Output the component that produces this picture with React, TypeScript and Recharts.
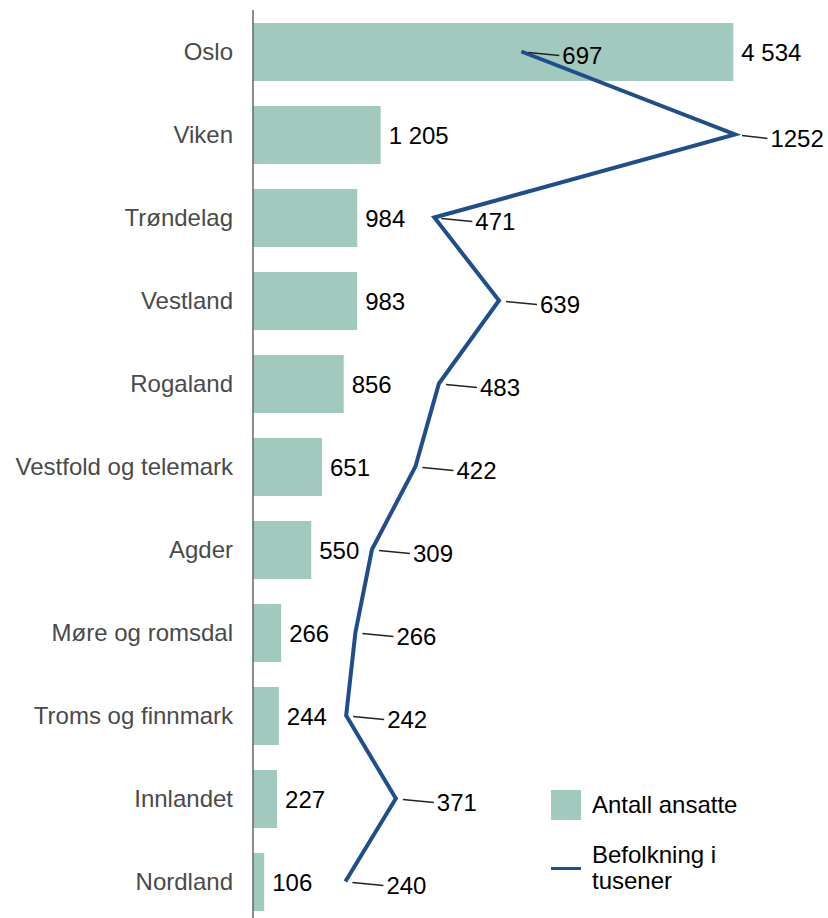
import React from "react";
import {
  ComposedChart,
  Bar,
  Line,
  XAxis,
  YAxis,
  LabelList,
} from "recharts";

const regions = [
  "Oslo",
  "Viken",
  "Trøndelag",
  "Vestland",
  "Rogaland",
  "Vestfold og telemark",
  "Agder",
  "Møre og romsdal",
  "Troms og finnmark",
  "Innlandet",
  "Nordland",
];
const employees = [4534, 1205, 984, 983, 856, 651, 550, 266, 244, 227, 106];
const population = [697, 1252, 471, 639, 483, 422, 309, 266, 242, 371, 240];

const BAR_COLOR = "#A2C9BD";
const LINE_COLOR = "#1F4E8C";
const FONT = "'Liberation Sans', Arial, sans-serif";

const data = regions.map((r, i) => ({
  region: r,
  ansatte: employees[i],
  befolkning: population[i],
}));

const spaced = (v: number) => String(v).replace(/\B(?=(\d{3})+(?!\d))/g, " ");

// label with a short leader line; pulled in if it would run past the right edge
function PopLabel(props: any) {
  const { x, y, value } = props;
  if (x == null || y == null) return null;
  const textW = String(value).length * 13.4;
  const tx = Math.min(x + 41, 824 - textW);
  return (
    <g>
      <line x1={x + 7} y1={y + 1} x2={tx - 3} y2={y + 4} stroke="#222" strokeWidth={1.5} />
      <text
        x={tx}
        y={y + 4}
        dominantBaseline="central"
        fontSize={24}
        fontFamily={FONT}
        fill="#000"
      >
        {value}
      </text>
    </g>
  );
}

function LegendBox() {
  return (
    <div
      style={{
        position: "absolute",
        left: 551,
        top: 790,
        fontFamily: FONT,
        fontSize: 24,
        color: "#000",
        lineHeight: "26px",
      }}
    >
      <div style={{ display: "flex", alignItems: "center", height: 30 }}>
        <div style={{ width: 30, height: 30, background: BAR_COLOR, marginRight: 11 }} />
        <span>Antall ansatte</span>
      </div>
      <div style={{ display: "flex", alignItems: "center", marginTop: 22 }}>
        <div style={{ width: 30, height: 3, background: LINE_COLOR, marginRight: 11 }} />
        <span>
          Befolkning i
          <br />
          tusener
        </span>
      </div>
    </div>
  );
}

export default function App() {
  return (
    <div
      style={{
        position: "fixed",
        left: 0,
        top: 0,
        width: 828,
        height: 918,
        overflow: "hidden",
        background: "#fff",
      }}
    >
      <ComposedChart
        width={828}
        height={923}
        data={data}
        layout="vertical"
        margin={{ top: 10, right: 93, bottom: 0, left: 0 }}
      >
        <XAxis xAxisId="bar" type="number" domain={[0, 4550]} hide />
        <XAxis xAxisId="line" type="number" domain={[0, 1252]} hide />
        <YAxis
          type="category"
          dataKey="region"
          width={253}
          tickLine={false}
          tickSize={0}
          tickMargin={20}
          axisLine={{ stroke: "#666", strokeWidth: 1.5 }}
          tick={{ fill: "#4a4a4a", fontSize: 24, fontFamily: FONT }}
        />
        <Bar
          xAxisId="bar"
          dataKey="ansatte"
          fill={BAR_COLOR}
          barSize={58}
          isAnimationActive={false}
        >
          <LabelList
            dataKey="ansatte"
            position="right"
            offset={8}
            formatter={(v: any) => spaced(Number(v))}
            style={{ fontSize: 24, fontFamily: FONT, fill: "#000" }}
          />
        </Bar>
        <Line
          xAxisId="line"
          dataKey="befolkning"
          type="linear"
          stroke={LINE_COLOR}
          strokeWidth={4}
          dot={false}
          activeDot={false}
          isAnimationActive={false}
        >
          <LabelList dataKey="befolkning" content={<PopLabel />} />
        </Line>
      </ComposedChart>
      <LegendBox />
    </div>
  );
}
